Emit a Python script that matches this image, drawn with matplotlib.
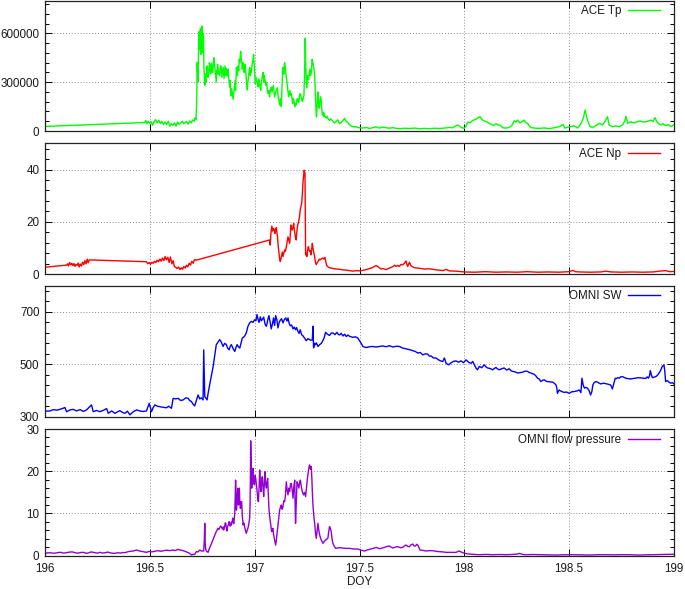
import matplotlib
matplotlib.use("Agg")
import matplotlib.pyplot as plt
from matplotlib.ticker import FuncFormatter
import numpy as np

plt.rcParams['font.family'] = ['Liberation Sans', 'DejaVu Sans']
FS = 8.4

# ---------------- data: (DOY, value) ----------------
tp_data = [
    (196.000, 28000), (196.476, 52000), (196.480, 65000), (196.486, 45000), (196.492, 60000),
    (196.500, 48000), (196.506, 58000), (196.512, 35000), (196.520, 55000), (196.527, 70000),
    (196.535, 50000), (196.543, 66000), (196.550, 45000), (196.557, 60000), (196.565, 40000),
    (196.572, 55000), (196.580, 40000), (196.588, 60000), (196.595, 30000), (196.603, 45000),
    (196.610, 35000), (196.617, 50000), (196.625, 30000), (196.632, 55000), (196.640, 40000),
    (196.648, 50000), (196.655, 60000), (196.662, 45000), (196.667, 49000), (196.675, 58000),
    (196.683, 42000), (196.690, 62000), (196.698, 50000), (196.705, 68000), (196.712, 60000),
    (196.716, 80000), (196.720, 70000),
    (196.724, 200000), (196.7255, 420000), (196.727, 385000), (196.7285, 330000), (196.730, 300000),
    (196.7315, 450000), (196.733, 520000), (196.7345, 610000), (196.736, 600000), (196.7375, 500000),
    (196.739, 560000), (196.7405, 620000), (196.742, 630000), (196.7435, 560000), (196.745, 470000),
    (196.747, 590000), (196.749, 645000), (196.7505, 600000), (196.752, 540000), (196.7535, 480000),
    (196.755, 600000), (196.7565, 520000), (196.758, 395000), (196.760, 330000), (196.762, 280000),
    (196.764, 320000), (196.766, 350000), (196.768, 300000), (196.770, 330000), (196.7725, 400000),
    (196.775, 380000), (196.778, 330000), (196.781, 355000), (196.784, 420000), (196.787, 400000),
    (196.790, 350000), (196.794, 415000), (196.797, 370000), (196.800, 360000), (196.803, 420000),
    (196.806, 450000), (196.8085, 400000), (196.811, 380000), (196.814, 340000), (196.817, 300000),
    (196.819, 370000), (196.821, 350000), (196.823, 410000), (196.825, 385000), (196.829, 350000),
    (196.833, 340000), (196.837, 400000), (196.841, 395000), (196.844, 330000), (196.847, 360000),
    (196.850, 390000), (196.854, 322000), (196.8565, 360000), (196.859, 400000), (196.862, 340000),
    (196.865, 385000), (196.8675, 360000), (196.870, 340000), (196.873, 380000), (196.876, 325000),
    (196.8785, 300000), (196.881, 270000), (196.8835, 310000), (196.886, 215000), (196.889, 260000),
    (196.892, 250000), (196.8945, 220000), (196.897, 195000), (196.901, 240000), (196.905, 290000),
    (196.907, 310000), (196.909, 250000), (196.911, 330000), (196.913, 390000), (196.9155, 360000),
    (196.918, 340000), (196.921, 400000), (196.924, 370000), (196.9265, 440000), (196.929, 420000),
    (196.931, 460000), (196.933, 490000), (196.9355, 450000), (196.938, 430000), (196.941, 380000),
    (196.944, 420000), (196.947, 400000), (196.950, 360000), (196.953, 410000), (196.956, 390000),
    (196.958, 350000), (196.960, 320000), (196.9625, 280000), (196.965, 252000), (196.9675, 300000),
    (196.970, 330000), (196.973, 360000), (196.976, 390000), (196.978, 360000), (196.980, 340000),
    (196.982, 380000), (196.984, 360000), (196.987, 400000), (196.990, 420000), (196.9925, 440000),
    (196.995, 470000), (196.997, 420000), (196.999, 380000), (197.001, 340000), (197.003, 290000),
    (197.0065, 330000), (197.010, 310000), (197.013, 290000), (197.016, 270000), (197.019, 320000),
    (197.022, 300000), (197.0255, 270000), (197.029, 250000), (197.032, 300000), (197.035, 320000),
    (197.0375, 340000), (197.040, 360000), (197.042, 330000), (197.044, 300000), (197.046, 340000),
    (197.048, 320000), (197.051, 300000), (197.054, 280000), (197.057, 300000), (197.060, 260000),
    (197.0625, 240000), (197.065, 230000), (197.068, 250000), (197.071, 210000), (197.074, 240000),
    (197.077, 260000), (197.080, 270000), (197.083, 240000), (197.086, 260000), (197.089, 280000),
    (197.092, 250000), (197.095, 210000), (197.098, 230000), (197.101, 240000), (197.1045, 250000),
    (197.108, 265000), (197.1105, 230000), (197.113, 200000), (197.116, 190000), (197.119, 160000),
    (197.1215, 180000), (197.124, 200000), (197.1255, 170000), (197.127, 150000), (197.129, 220000),
    (197.131, 300000), (197.133, 360000), (197.135, 390000), (197.137, 370000), (197.139, 350000),
    (197.141, 400000), (197.143, 420000), (197.145, 400000), (197.147, 380000), (197.149, 350000),
    (197.151, 330000), (197.1535, 300000), (197.156, 280000), (197.159, 240000), (197.162, 210000),
    (197.165, 230000), (197.168, 250000), (197.1715, 220000), (197.175, 230000), (197.178, 200000),
    (197.181, 170000), (197.184, 200000), (197.187, 190000), (197.1895, 165000), (197.192, 150000),
    (197.195, 170000), (197.198, 160000), (197.201, 190000), (197.204, 200000), (197.207, 185000),
    (197.210, 175000), (197.213, 210000), (197.216, 230000), (197.219, 220000), (197.222, 210000),
    (197.225, 190000), (197.228, 180000), (197.2315, 200000), (197.235, 220000), (197.238, 350000),
    (197.241, 570000), (197.2425, 480000), (197.244, 400000), (197.246, 320000), (197.248, 265000),
    (197.250, 300000), (197.252, 340000), (197.2545, 330000), (197.257, 315000), (197.260, 350000),
    (197.263, 380000), (197.2665, 340000), (197.270, 360000), (197.272, 400000), (197.274, 440000),
    (197.276, 430000), (197.278, 420000), (197.280, 400000), (197.282, 390000), (197.284, 370000),
    (197.286, 345000), (197.288, 280000), (197.290, 200000), (197.2925, 130000), (197.295, 86000),
    (197.297, 140000), (197.299, 180000), (197.3005, 220000), (197.302, 240000), (197.304, 190000),
    (197.306, 150000), (197.308, 140000), (197.310, 160000), (197.312, 190000), (197.314, 210000),
    (197.3155, 200000), (197.317, 190000), (197.319, 150000), (197.321, 120000), (197.323, 100000),
    (197.325, 115000), (197.327, 100000), (197.329, 90000), (197.331, 110000), (197.333, 98000),
    (197.337, 85000), (197.341, 80000), (197.345, 90000), (197.349, 78000), (197.353, 70000),
    (197.357, 65000), (197.361, 75000), (197.365, 72000), (197.369, 65000), (197.373, 60000),
    (197.377, 55000), (197.381, 49000), (197.385, 55000), (197.389, 58000), (197.393, 64000),
    (197.397, 69000), (197.401, 55000), (197.405, 45000), (197.409, 50000), (197.413, 53000),
    (197.417, 58000), (197.421, 62000), (197.425, 70000), (197.429, 78000), (197.432, 68000),
    (197.436, 60000), (197.440, 56000), (197.444, 53000), (197.448, 45000), (197.452, 40000),
    (197.456, 35000), (197.460, 31000), (197.464, 28000), (197.468, 28000), (197.472, 25000),
    (197.476, 24000), (197.480, 27000), (197.484, 26000), (197.488, 23000), (197.492, 22000),
    (197.496, 21000), (197.500, 20000),
    (197.516, 18000), (197.532, 22000), (197.548, 16000), (197.563, 20000), (197.579, 26000),
    (197.595, 18000), (197.611, 24000), (197.627, 20000), (197.643, 17000), (197.659, 21000),
    (197.675, 16000), (197.690, 14000), (197.714, 17000), (197.738, 15000), (197.762, 18000),
    (197.786, 14000), (197.810, 16000), (197.833, 14000), (197.857, 17000), (197.881, 15000),
    (197.905, 18000), (197.929, 22000), (197.944, 20000), (197.960, 32000), (197.971, 37000),
    (197.984, 22000), (198.000, 16000), (198.008, 30000), (198.016, 55000), (198.027, 50000),
    (198.040, 65000), (198.052, 70000), (198.063, 80000), (198.075, 88000), (198.084, 70000),
    (198.095, 62000), (198.106, 57000), (198.119, 47000), (198.130, 40000), (198.140, 33000),
    (198.151, 45000), (198.159, 38000), (198.170, 36000), (198.183, 20000), (198.198, 18000),
    (198.214, 22000), (198.227, 35000), (198.238, 63000), (198.246, 55000), (198.254, 68000),
    (198.265, 50000), (198.278, 60000), (198.286, 67000), (198.294, 50000), (198.302, 47000),
    (198.310, 30000), (198.317, 22000), (198.333, 18000), (198.357, 16000), (198.381, 19000),
    (198.405, 15000), (198.429, 20000), (198.452, 26000), (198.463, 34000), (198.471, 40000),
    (198.479, 18000), (198.500, 25000), (198.524, 32000), (198.540, 18000), (198.551, 35000),
    (198.560, 57000), (198.568, 80000), (198.576, 129000), (198.583, 90000), (198.589, 60000),
    (198.598, 30000), (198.611, 20000), (198.627, 33000), (198.643, 47000), (198.659, 37000),
    (198.671, 60000), (198.683, 88000), (198.690, 37000), (198.706, 26000), (198.722, 32000),
    (198.738, 26000), (198.754, 37000), (198.765, 60000), (198.771, 90000), (198.779, 47000),
    (198.794, 57000), (198.805, 50000), (198.817, 53000), (198.830, 60000), (198.841, 61000),
    (198.852, 55000), (198.865, 57000), (198.878, 62000), (198.889, 67000), (198.900, 58000),
    (198.910, 82000), (198.917, 60000), (198.925, 47000), (198.937, 37000), (198.948, 45000),
    (198.960, 33000), (198.973, 40000), (198.984, 27000), (199.000, 38000),
]

np_data = [
    (196.000, 2.7), (196.103, 3.5), (196.107, 4.0), (196.112, 3.2), (196.117, 4.5), (196.122, 3.6),
    (196.128, 4.2), (196.133, 3.3), (196.138, 4.1), (196.143, 3.0), (196.148, 3.8), (196.153, 3.4),
    (196.158, 4.3), (196.163, 2.8), (196.168, 3.9), (196.174, 3.2), (196.179, 4.6), (196.185, 3.7),
    (196.190, 5.2), (196.196, 4.0), (196.201, 5.8), (196.206, 4.4), (196.211, 5.5),
    (196.484, 4.8), (196.490, 4.0), (196.497, 4.5), (196.503, 3.8), (196.510, 4.6), (196.516, 4.2),
    (196.522, 5.0), (196.529, 4.5), (196.535, 5.4), (196.541, 4.8), (196.548, 5.8), (196.554, 5.0),
    (196.560, 6.2), (196.567, 5.2), (196.573, 6.8), (196.579, 5.5), (196.586, 6.5), (196.592, 4.5),
    (196.598, 6.6), (196.605, 4.0), (196.611, 5.2), (196.617, 3.0), (196.624, 2.6), (196.630, 2.2),
    (196.637, 2.8), (196.643, 1.8), (196.650, 2.5), (196.656, 1.9), (196.662, 3.0), (196.669, 2.4),
    (196.675, 3.5), (196.681, 2.8), (196.688, 4.2), (196.694, 3.5), (196.700, 5.0), (196.707, 4.2),
    (196.713, 5.6), (196.722, 5.4),
    (197.071, 13.1), (197.074, 11.2), (197.078, 16.0), (197.082, 18.4), (197.086, 16.5), (197.090, 17.5),
    (197.094, 16.8), (197.097, 15.6), (197.100, 17.0), (197.103, 17.8), (197.106, 16.0), (197.109, 14.3),
    (197.112, 11.0), (197.116, 8.0), (197.119, 6.0), (197.122, 4.9), (197.126, 6.2), (197.129, 7.4),
    (197.132, 8.5), (197.135, 6.8), (197.139, 8.0), (197.143, 9.3), (197.147, 8.8), (197.151, 10.5),
    (197.155, 12.5), (197.159, 14.3), (197.163, 13.0), (197.167, 11.8), (197.170, 15.5), (197.173, 18.8),
    (197.176, 17.5), (197.179, 16.9), (197.183, 18.0), (197.186, 19.4), (197.189, 17.0), (197.192, 15.6),
    (197.195, 14.0), (197.198, 13.1), (197.201, 16.0), (197.205, 18.8), (197.208, 19.5), (197.211, 20.7),
    (197.214, 22.0), (197.217, 24.5), (197.220, 25.5), (197.224, 27.0), (197.227, 30.0), (197.230, 34.7),
    (197.233, 37.0), (197.236, 39.7), (197.240, 38.5), (197.243, 7.4), (197.246, 8.0), (197.249, 6.8),
    (197.252, 9.0), (197.256, 10.5), (197.259, 9.5), (197.262, 8.7), (197.265, 9.0), (197.268, 7.4),
    (197.272, 9.5), (197.275, 11.8), (197.278, 10.0), (197.281, 8.7), (197.284, 7.5), (197.287, 6.2),
    (197.290, 4.5), (197.294, 3.7), (197.298, 4.4), (197.303, 4.9), (197.308, 5.8), (197.313, 5.5),
    (197.319, 6.0), (197.325, 6.2), (197.330, 5.8), (197.335, 6.5), (197.340, 4.5), (197.344, 3.3),
    (197.350, 2.8), (197.357, 2.5), (197.369, 2.3), (197.381, 2.1), (197.393, 2.0), (197.405, 1.9),
    (197.421, 1.7), (197.437, 1.6), (197.452, 1.4), (197.468, 1.2), (197.484, 1.4), (197.500, 1.3),
    (197.516, 1.5), (197.532, 1.8), (197.548, 2.2), (197.563, 2.6), (197.571, 3.0), (197.579, 3.3),
    (197.587, 3.0), (197.595, 2.5), (197.603, 2.0), (197.611, 2.2), (197.627, 1.8), (197.643, 2.4),
    (197.659, 2.9), (197.667, 3.5), (197.675, 3.0), (197.683, 3.4), (197.690, 3.0), (197.698, 3.8),
    (197.706, 3.6), (197.714, 4.2), (197.722, 5.1), (197.726, 3.8), (197.730, 3.0), (197.738, 4.6),
    (197.746, 3.2), (197.754, 2.8), (197.762, 2.5), (197.786, 2.3), (197.810, 2.0), (197.833, 2.1),
    (197.865, 1.7), (197.900, 1.4), (197.913, 1.9), (197.929, 1.3), (197.960, 1.2), (198.000, 0.9),
    (198.050, 0.8), (198.100, 1.0), (198.150, 0.8), (198.200, 0.9), (198.250, 0.8), (198.300, 1.0),
    (198.350, 0.8), (198.400, 0.9), (198.450, 0.8), (198.500, 1.0), (198.516, 1.5), (198.530, 1.0),
    (198.550, 0.9), (198.600, 0.8), (198.650, 0.9), (198.675, 1.2), (198.700, 0.9), (198.750, 0.8),
    (198.800, 0.9), (198.850, 0.8), (198.900, 0.9), (198.930, 1.2), (198.960, 1.4), (198.980, 1.0),
    (199.000, 1.1),
]

sw_data = [
    (196.000, 323), (196.012, 321), (196.024, 322), (196.040, 327), (196.056, 325), (196.075, 329),
    (196.095, 335), (196.103, 319), (196.120, 326), (196.135, 328), (196.150, 322), (196.167, 327),
    (196.183, 320), (196.198, 326), (196.222, 345), (196.230, 319), (196.246, 324), (196.262, 319),
    (196.280, 325), (196.294, 331), (196.302, 313), (196.318, 322), (196.333, 313), (196.345, 318),
    (196.357, 323), (196.370, 316), (196.381, 313), (196.393, 321), (196.405, 307), (196.421, 319),
    (196.437, 326), (196.452, 322), (196.468, 320), (196.484, 322), (196.497, 351), (196.508, 319),
    (196.516, 335), (196.524, 345), (196.536, 340), (196.548, 338), (196.563, 336), (196.579, 334),
    (196.590, 340), (196.603, 332), (196.611, 370), (196.623, 368), (196.635, 370), (196.647, 362),
    (196.659, 364), (196.671, 372), (196.683, 370), (196.690, 362), (196.698, 358), (196.706, 348),
    (196.714, 341), (196.722, 362), (196.730, 383), (196.738, 368), (196.746, 372), (196.754, 364),
    (196.757, 555), (196.762, 377), (196.773, 364), (196.778, 390), (196.802, 492), (196.817, 575),
    (196.833, 594), (196.841, 585), (196.849, 568), (196.857, 580), (196.865, 575), (196.871, 562),
    (196.878, 555), (196.884, 570), (196.889, 575), (196.897, 560), (196.905, 549), (196.910, 562),
    (196.916, 575), (196.922, 568), (196.929, 562), (196.941, 600), (196.952, 607), (196.960, 620),
    (196.968, 645), (196.976, 658), (196.984, 664), (196.992, 660), (197.000, 670), (197.006, 666),
    (197.011, 690), (197.016, 672), (197.021, 660), (197.027, 681), (197.032, 666), (197.038, 673),
    (197.043, 680), (197.050, 652), (197.056, 645), (197.062, 668), (197.068, 686), (197.074, 660),
    (197.079, 635), (197.085, 655), (197.090, 677), (197.095, 648), (197.100, 686), (197.106, 670),
    (197.111, 639), (197.117, 660), (197.122, 668), (197.128, 674), (197.135, 658), (197.141, 670),
    (197.148, 677), (197.154, 665), (197.159, 677), (197.165, 655), (197.170, 647), (197.176, 650),
    (197.183, 635), (197.189, 642), (197.195, 632), (197.200, 640), (197.206, 626), (197.212, 618),
    (197.217, 632), (197.224, 613), (197.230, 609), (197.238, 600), (197.246, 590), (197.254, 598),
    (197.262, 594), (197.268, 592), (197.275, 593), (197.278, 645), (197.281, 563), (197.286, 580),
    (197.290, 575), (197.294, 582), (197.302, 568), (197.310, 575), (197.318, 580), (197.325, 590),
    (197.331, 600), (197.338, 622), (197.347, 615), (197.357, 610), (197.365, 619), (197.373, 620),
    (197.383, 613), (197.392, 622), (197.399, 614), (197.405, 612), (197.413, 618), (197.421, 608),
    (197.429, 615), (197.437, 606), (197.445, 612), (197.452, 607), (197.468, 603), (197.480, 605),
    (197.492, 600), (197.500, 590), (197.508, 580), (197.516, 568), (197.532, 564), (197.548, 567),
    (197.563, 568), (197.579, 566), (197.595, 568), (197.611, 570), (197.627, 567), (197.643, 571),
    (197.659, 566), (197.675, 569), (197.690, 568), (197.706, 562), (197.722, 559), (197.738, 556),
    (197.754, 552), (197.766, 549), (197.778, 543), (197.790, 545), (197.802, 536), (197.814, 540),
    (197.825, 539), (197.833, 531), (197.841, 532), (197.853, 524), (197.865, 524), (197.877, 517),
    (197.889, 512), (197.897, 511), (197.905, 524), (197.913, 504), (197.925, 498), (197.937, 506),
    (197.948, 511), (197.960, 513), (197.972, 508), (197.984, 513), (197.996, 506), (198.008, 517),
    (198.016, 511), (198.024, 506), (198.032, 504), (198.040, 511), (198.048, 498), (198.056, 485),
    (198.063, 479), (198.071, 492), (198.083, 487), (198.095, 498), (198.103, 490), (198.111, 486),
    (198.123, 484), (198.135, 479), (198.143, 484), (198.151, 488), (198.159, 482), (198.167, 479),
    (198.178, 483), (198.190, 486), (198.202, 478), (198.214, 483), (198.222, 476), (198.230, 473),
    (198.242, 471), (198.254, 467), (198.266, 468), (198.278, 470), (198.290, 474), (198.302, 473),
    (198.310, 468), (198.317, 467), (198.325, 464), (198.333, 462), (198.341, 456), (198.349, 447),
    (198.357, 444), (198.365, 434), (198.373, 439), (198.381, 441), (198.389, 436), (198.397, 434),
    (198.409, 433), (198.421, 432), (198.429, 428), (198.437, 421), (198.441, 410), (198.444, 389),
    (198.448, 396), (198.452, 402), (198.464, 396), (198.476, 393), (198.488, 394), (198.500, 389),
    (198.512, 395), (198.524, 396), (198.536, 398), (198.548, 402), (198.556, 392), (198.561, 447),
    (198.567, 420), (198.573, 409), (198.579, 412), (198.587, 409), (198.595, 400), (198.602, 383),
    (198.608, 395), (198.613, 421), (198.619, 430), (198.627, 434), (198.635, 432), (198.643, 428),
    (198.651, 425), (198.663, 428), (198.675, 426), (198.686, 424), (198.698, 421), (198.706, 406),
    (198.714, 430), (198.720, 447), (198.725, 445), (198.731, 449), (198.738, 447), (198.746, 452),
    (198.754, 453), (198.762, 450), (198.770, 447), (198.782, 445), (198.794, 444), (198.806, 446),
    (198.817, 447), (198.829, 449), (198.841, 448), (198.853, 447), (198.865, 446), (198.872, 452),
    (198.878, 447), (198.883, 455), (198.887, 476), (198.892, 460), (198.897, 449), (198.905, 451),
    (198.913, 453), (198.921, 458), (198.929, 467), (198.937, 478), (198.944, 492), (198.952, 498),
    (198.956, 475), (198.960, 434), (198.968, 438), (198.976, 432), (198.984, 428), (198.992, 430),
    (199.000, 425),
]

pf_data = [
    (196.000, 0.56), (196.012, 0.65), (196.024, 0.70), (196.037, 0.60), (196.050, 0.62), (196.063, 0.75),
    (196.075, 0.80), (196.089, 0.60), (196.103, 0.72), (196.117, 0.85), (196.130, 0.90), (196.143, 0.70),
    (196.156, 0.60), (196.170, 0.75), (196.183, 0.80), (196.198, 0.56), (196.210, 0.70), (196.220, 0.90),
    (196.235, 0.75), (196.250, 0.60), (196.262, 0.80), (196.271, 0.65), (196.280, 0.65), (196.290, 0.75),
    (196.300, 0.85), (196.317, 0.60), (196.333, 0.56), (196.347, 0.70), (196.360, 0.62), (196.370, 0.75),
    (196.381, 0.72), (196.390, 0.85), (196.400, 1.00), (196.410, 1.05), (196.421, 1.11), (196.437, 1.35),
    (196.452, 1.10), (196.468, 0.96), (196.484, 0.80), (196.492, 0.95), (196.500, 1.00), (196.508, 0.90),
    (196.516, 0.96), (196.528, 1.10), (196.540, 1.20), (196.550, 1.05), (196.560, 1.11), (196.570, 1.25),
    (196.580, 1.30), (196.595, 1.20), (196.611, 1.35), (196.620, 1.20), (196.635, 1.51), (196.643, 1.35),
    (196.650, 1.30), (196.659, 1.19), (196.675, 0.90), (196.690, 0.56), (196.698, 0.17), (196.706, 0.32),
    (196.714, 0.30), (196.722, 0.96), (196.730, 0.90), (196.738, 1.35), (196.746, 1.11), (196.757, 1.11),
    (196.760, 4.00), (196.762, 7.67), (196.764, 3.00), (196.767, 1.35), (196.772, 1.00), (196.778, 0.80),
    (196.783, 1.60), (196.789, 2.30), (196.794, 2.93), (196.800, 3.60), (196.805, 4.30), (196.810, 4.91),
    (196.815, 5.50), (196.820, 6.00), (196.825, 6.49), (196.829, 6.20), (196.833, 6.60), (196.837, 7.00),
    (196.841, 6.88), (196.844, 6.50), (196.847, 6.30), (196.850, 6.80), (196.852, 6.10), (196.855, 6.60),
    (196.857, 7.00), (196.860, 7.80), (196.862, 7.67), (196.865, 6.50), (196.868, 5.85), (196.871, 6.90),
    (196.873, 7.20), (196.876, 7.60), (196.878, 8.06), (196.881, 7.20), (196.884, 7.00), (196.887, 7.80),
    (196.889, 7.28), (196.891, 8.00), (196.893, 8.00), (196.895, 8.90), (196.897, 8.45), (196.899, 7.60),
    (196.901, 7.60), (196.903, 9.00), (196.905, 10.04), (196.907, 13.50), (196.909, 17.90), (196.911, 14.00),
    (196.913, 10.80), (196.915, 12.00), (196.917, 14.00), (196.919, 16.00), (196.921, 13.50), (196.923, 12.00),
    (196.925, 14.50), (196.927, 16.00), (196.929, 13.00), (196.932, 11.20), (196.935, 12.80), (196.938, 12.80),
    (196.941, 9.50), (196.945, 7.28), (196.948, 7.80), (196.952, 6.88), (196.956, 6.00), (196.960, 5.30),
    (196.964, 6.00), (196.968, 6.49), (196.972, 7.50), (196.976, 8.85), (196.978, 12.00), (196.980, 20.00),
    (196.981, 27.20), (196.983, 22.00), (196.986, 16.00), (196.988, 19.00), (196.990, 17.00), (196.992, 20.70),
    (196.995, 18.00), (196.999, 16.80), (197.002, 19.00), (197.005, 18.30), (197.008, 17.00), (197.011, 15.60),
    (197.014, 14.00), (197.016, 13.00), (197.018, 12.80), (197.021, 16.00), (197.024, 20.30), (197.027, 17.00),
    (197.030, 15.20), (197.033, 17.00), (197.035, 18.50), (197.037, 18.70), (197.040, 16.00), (197.043, 14.00),
    (197.046, 17.00), (197.049, 19.90), (197.052, 17.00), (197.056, 16.00), (197.059, 17.50), (197.062, 18.30),
    (197.065, 15.00), (197.068, 11.20), (197.071, 9.50), (197.075, 8.06), (197.078, 6.80), (197.081, 5.70),
    (197.084, 6.20), (197.087, 6.49), (197.090, 5.00), (197.095, 3.70), (197.098, 3.00), (197.100, 2.50),
    (197.103, 3.50), (197.106, 4.91), (197.109, 6.50), (197.113, 8.06), (197.116, 9.50), (197.119, 10.80),
    (197.123, 11.50), (197.127, 12.00), (197.131, 11.00), (197.135, 11.60), (197.139, 13.00), (197.143, 12.80),
    (197.147, 14.50), (197.151, 17.50), (197.155, 15.50), (197.159, 14.40), (197.163, 16.00), (197.167, 15.20),
    (197.171, 17.00), (197.175, 17.10), (197.179, 15.50), (197.183, 13.60), (197.187, 16.50), (197.191, 17.90),
    (197.193, 12.00), (197.195, 7.67), (197.198, 12.00), (197.202, 17.50), (197.206, 17.00), (197.211, 16.00),
    (197.214, 17.20), (197.218, 17.90), (197.222, 16.50), (197.227, 15.20), (197.230, 14.80), (197.233, 14.40),
    (197.238, 15.00), (197.243, 14.00), (197.246, 15.50), (197.249, 17.10), (197.252, 18.50), (197.256, 19.90),
    (197.259, 21.00), (197.262, 21.50), (197.266, 20.50), (197.270, 21.10), (197.273, 18.00), (197.275, 15.20),
    (197.278, 12.00), (197.281, 10.04), (197.284, 8.50), (197.287, 7.28), (197.290, 5.50), (197.294, 4.10),
    (197.298, 6.00), (197.302, 7.67), (197.306, 6.00), (197.310, 4.91), (197.314, 4.20), (197.318, 3.70),
    (197.322, 3.30), (197.326, 2.93), (197.332, 3.40), (197.338, 3.70), (197.343, 3.90), (197.349, 4.10),
    (197.353, 5.60), (197.357, 6.88), (197.361, 6.50), (197.365, 5.70), (197.369, 4.00), (197.373, 2.93),
    (197.380, 2.20), (197.386, 1.75), (197.405, 1.90), (197.420, 1.80), (197.437, 1.74), (197.452, 1.74),
    (197.470, 1.60), (197.492, 1.58), (197.508, 1.30), (197.524, 1.11), (197.536, 1.35), (197.548, 1.50),
    (197.563, 1.70), (197.579, 1.97), (197.595, 1.66), (197.607, 1.80), (197.619, 1.97), (197.631, 2.20),
    (197.643, 2.29), (197.651, 2.00), (197.659, 1.82), (197.671, 2.05), (197.683, 2.13), (197.695, 1.90),
    (197.706, 1.97), (197.714, 2.30), (197.722, 2.53), (197.730, 2.20), (197.738, 2.13), (197.746, 2.60),
    (197.754, 2.76), (197.760, 2.30), (197.767, 2.29), (197.773, 2.70), (197.778, 2.53), (197.789, 1.34),
    (197.803, 1.25), (197.818, 1.11), (197.833, 1.20), (197.849, 1.19), (197.865, 1.05), (197.881, 0.95),
    (197.897, 0.90), (197.913, 0.79), (197.937, 0.80), (197.960, 0.79), (197.976, 1.11), (197.992, 0.71),
    (198.008, 0.50), (198.024, 0.40), (198.047, 0.30), (198.071, 0.24), (198.103, 0.30), (198.135, 0.24),
    (198.167, 0.28), (198.198, 0.24), (198.230, 0.30), (198.255, 0.40), (198.262, 0.55), (198.278, 0.30),
    (198.294, 0.24), (198.325, 0.28), (198.357, 0.24), (198.397, 0.20), (198.437, 0.16), (198.476, 0.22),
    (198.516, 0.24), (198.556, 0.20), (198.595, 0.16), (198.635, 0.22), (198.675, 0.24), (198.714, 0.20),
    (198.754, 0.24), (198.794, 0.22), (198.833, 0.16), (198.873, 0.20), (198.913, 0.24), (198.952, 0.28),
    (198.992, 0.32), (199.000, 0.35),
]

xlim = (196, 199)
xticks = [196, 196.5, 197, 197.5, 198, 198.5, 199]
panels = [
    dict(data=tp_data, color='#00ff00', label='ACE Tp', ylim=(0, 800000),
         yticks=[0, 300000, 600000], minor=60000),
    dict(data=np_data, color='#ff0000', label='ACE Np', ylim=(0, 50),
         yticks=[0, 20, 40], minor=4),
    dict(data=sw_data, color='#0000ff', label='OMNI SW', ylim=(300, 800),
         yticks=[300, 500, 700], minor=40),
    dict(data=pf_data, color='#9400d3', label='OMNI flow pressure', ylim=(0, 30),
         yticks=[0, 10, 20, 30], minor=2),
]

# layout in pixels (top, bottom) of each panel
W, H = 685, 589
L, R = 45, 674
rows = [(0.8, 131.0), (143.3, 274.3), (285.7, 416.7), (429.0, 555.7)]

fig = plt.figure(figsize=(W / 100, H / 100), dpi=100)
text_color = '#1a1a1a'

for i, (p, (t, b)) in enumerate(zip(panels, rows)):
    ax = fig.add_axes([L / W, 1 - b / H, (R - L) / W, (b - t) / H])
    xs = [d[0] for d in p['data']]
    ys = [d[1] for d in p['data']]
    ax.plot(xs, ys, color=p['color'], lw=1.0, label=p['label'])
    ax.set_xlim(*xlim)
    ax.set_ylim(*p['ylim'])
    ax.set_xticks(xticks)
    ax.set_yticks(p['yticks'])
    y0, y1 = p['ylim']
    ax.set_yticks(np.arange(y0, y1 + 1e-9, p['minor']), minor=True)
    ax.grid(True, which='major', color='#8c8c8c', linestyle=(0, (1, 2)), linewidth=0.7)
    ax.tick_params(which='both', direction='in', left=True, right=True, top=True, bottom=True,
                   labelsize=FS, colors='black', labelcolor=text_color, width=0.7)
    ax.tick_params(which='major', length=5)
    ax.tick_params(axis='y', which='major', pad=4)
    ax.tick_params(which='minor', length=3)
    ax.tick_params(axis='x', which='minor', top=False, bottom=False)
    for s in ax.spines.values():
        s.set_linewidth(0.9)
        s.set_color('#222222')
    ax.yaxis.set_major_formatter(FuncFormatter(lambda v, pos: f'{v:g}'))
    if i < 3:
        ax.tick_params(axis='x', labelbottom=False)
    else:
        ax.xaxis.set_major_formatter(FuncFormatter(lambda v, pos: f'{v:g}'))
        ax.tick_params(axis='x', pad=5)
        ax.set_xlabel('DOY', fontsize=FS, color=text_color, labelpad=1)
    ax.legend(loc='upper right', bbox_to_anchor=(1 - 9.5 / (R - L), 1.0),
              frameon=False, markerfirst=False, fontsize=FS,
              handlelength=2.7, handletextpad=0.6, borderaxespad=0.0,
              labelcolor=text_color)

fig.savefig('out.png', dpi=100)
